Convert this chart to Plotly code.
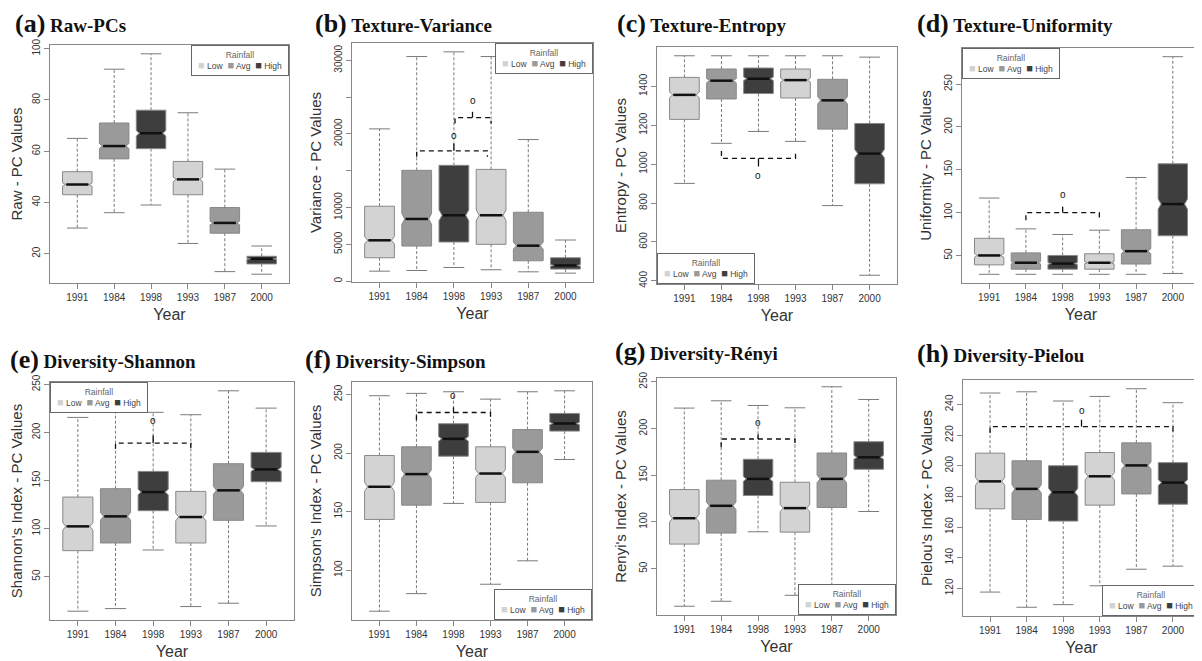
import math
import plotly.graph_objects as go

# ---------------- data ----------------
years = ["1991", "1984", "1998", "1993", "1987", "2000"]
rainfall = ["Low", "Avg", "High", "Low", "Avg", "High"]
rain_levels = ["Low", "Avg", "High"]
rain_colors = {"Low": "#d3d3d3", "Avg": "#9a9a9a", "High": "#3e3e3e"}
n_obs = 500  # approximate sample size per year (sets notch size)

# (a) Raw-PCs
raw_lower = [30, 36, 39, 24, 13, 12]
raw_q1 = [43, 57, 61, 43, 28, 16]
raw_median = [47, 62, 67, 49, 32, 18]
raw_q3 = [52, 71, 76, 56, 38, 19]
raw_upper = [65, 92, 98, 75, 53, 23]

# (b) Texture-Variance
var_lower = [1360, 1450, 1860, 1550, 1270, 1090]
var_q1 = [3180, 4770, 5320, 5000, 2770, 1640]
var_median = [5550, 8450, 8950, 8950, 4820, 2140]
var_q3 = [10180, 15050, 15730, 15180, 9360, 3180]
var_upper = [20680, 30500, 31140, 30500, 19230, 5590]

# (c) Texture-Entropy
ent_lower = [901, 1107, 1168, 1117, 787, 429]
ent_q1 = [1230, 1335, 1363, 1340, 1180, 899]
ent_median = [1356, 1429, 1439, 1432, 1328, 1054]
ent_q3 = [1446, 1489, 1494, 1489, 1436, 1209]
ent_upper = [1557, 1557, 1557, 1557, 1557, 1550]

# (d) Texture-Uniformity
uni_lower = [28, 28, 28, 28, 28, 29]
uni_q1 = [39, 34, 34, 34, 40, 73]
uni_median = [50, 41.5, 40.5, 41.5, 55, 110]
uni_q3 = [70, 53, 50, 52, 80, 157]
uni_upper = [117, 81, 74.5, 79.5, 141, 282]

# (e) Diversity-Shannon
sha_lower = [14, 16.7, 77.7, 18.8, 22.3, 102.7]
sha_q1 = [77, 85, 118.6, 85, 108.6, 148.8]
sha_median = [102.3, 112.7, 138, 112, 139.8, 161.6]
sha_q3 = [132.8, 141.5, 159.5, 138.7, 167.5, 179.3]
sha_upper = [215.7, 232, 221, 218.5, 243.4, 225.4]

# (f) Diversity-Simpson
sim_lower = [65, 80, 157, 88, 108, 194.5]
sim_q1 = [143.3, 155.5, 197.3, 157.8, 174.6, 218.7]
sim_median = [171.2, 182, 212.1, 182.5, 201, 225.2]
sim_q3 = [197.9, 205.3, 225, 205.3, 220, 233.8]
sim_upper = [248.9, 250.9, 252.3, 246, 252.3, 253.1]

# (g) Diversity-Renyi
ren_lower = [9.8, 15.1, 89.5, 21.5, 28, 111.2]
ren_q1 = [76.3, 88.1, 128.3, 89.1, 115.5, 156.4]
ren_median = [104, 117.3, 146.1, 114.8, 146.1, 169.2]
ren_q3 = [134.7, 144.7, 167.1, 142.5, 173.8, 185.9]
ren_upper = [221.9, 229.7, 224.7, 222.2, 244.7, 231.1]

# (h) Diversity-Pielou
pie_lower = [117.6, 107.7, 109.4, 121.7, 132.5, 134.5]
pie_q1 = [171.9, 165, 163.9, 174.3, 181.6, 174.9]
pie_median = [189.8, 184.9, 182.7, 193.1, 200.2, 189]
pie_q3 = [208.2, 203.2, 200, 208.6, 214.9, 202]
pie_upper = [247.4, 248.2, 242.2, 245.2, 250.2, 241.1]

# ---------------- panel definitions ----------------
# the page body has an 8px margin, so the figure is sized to fill the window from (8, 8)
OFF = 8
W, H = 1202 - OFF, 661 - OFF


def px_x(s):
    return (s - OFF) / W


def px_y(s):
    return 1 - (s - OFF) / H


panels = [
    dict(tag="a", name="Raw-PCs", ytitle="Raw - PC Values",
         lower=raw_lower, q1=raw_q1, med=raw_median, q3=raw_q3, upper=raw_upper,
         ticks=[20, 40, 60, 80, 100], ticktext=None,
         legend=("right", "top"), box=(50, 289, 45, 283), title_xy=(13, 23)),
    dict(tag="b", name="Texture-Variance", ytitle="Variance - PC Values",
         lower=var_lower, q1=var_q1, med=var_median, q3=var_q3, upper=var_upper,
         ticks=[0, 5000, 10000, 15000, 20000, 25000, 30000],
         ticktext=["0", "5000", "10000", "", "20000", "", "30000"],
         legend=("right", "top"), box=(352, 593, 43, 282), title_xy=(313, 23)),
    dict(tag="c", name="Texture-Entropy", ytitle="Entropy - PC Values",
         lower=ent_lower, q1=ent_q1, med=ent_median, q3=ent_q3, upper=ent_upper,
         ticks=[400, 600, 800, 1000, 1200, 1400], ticktext=None,
         legend=("left", "bottom"), box=(657, 897, 47, 284), title_xy=(615, 23)),
    dict(tag="d", name="Texture-Uniformity", ytitle="Uniformity - PC Values",
         lower=uni_lower, q1=uni_q1, med=uni_median, q3=uni_q3, upper=uni_upper,
         ticks=[50, 100, 150, 200, 250], ticktext=None,
         legend=("left", "top"), box=(962, 1200, 48, 283), title_xy=(915, 23)),
    dict(tag="e", name="Diversity-Shannon", ytitle="Shannon's Index - PC Values",
         lower=sha_lower, q1=sha_q1, med=sha_median, q3=sha_q3, upper=sha_upper,
         ticks=[50, 100, 150, 200, 250], ticktext=None,
         legend=("left", "top"), box=(50, 294, 382, 620), title_xy=(8, 359)),
    dict(tag="f", name="Diversity-Simpson", ytitle="Simpson's Index - PC Values",
         lower=sim_lower, q1=sim_q1, med=sim_median, q3=sim_q3, upper=sim_upper,
         ticks=[100, 150, 200, 250], ticktext=None,
         legend=("right", "bottom"), box=(352, 592, 382, 620), title_xy=(303, 359)),
    dict(tag="g", name="Diversity-Rényi", ytitle="Renyi's Index - PC Values",
         lower=ren_lower, q1=ren_q1, med=ren_median, q3=ren_q3, upper=ren_upper,
         ticks=[50, 100, 150, 200, 250], ticktext=None,
         legend=("right", "bottom"), box=(657, 896, 378, 615), title_xy=(613, 351)),
    dict(tag="h", name="Diversity-Pielou", ytitle="Pielou's Index - PC Values",
         lower=pie_lower, q1=pie_q1, med=pie_median, q3=pie_q3, upper=pie_upper,
         ticks=[120, 140, 160, 180, 200, 220, 240], ticktext=None,
         legend=("right", "bottom"), box=(963, 1200, 380, 616), title_xy=(915, 353)),
]

# significance brackets (annotation geometry): panel, x-left, x-right, line y, end y, centre x, centre tick y, marker y
brackets = [
    (1, 2, 3.9, 17700, 16900, 3, 18700, 19800),
    (1, 3.03, 4, 22200, 21400, 3.5, 23000, 24600),
    (2, 2, 4, 1030, 1068, 3, 988, 940),
    (3, 2, 4, 100, 91, 3, 107, 121),
    (4, 2, 4, 189, 183, 3, 197, 212),
    (5, 2, 4, 234.6, 228, 3, 239, 249.5),
    (6, 2, 4, 188.8, 180, 3, 194, 206),
    (7, 1, 6, 225.5, 221.5, 3.5, 230, 236),
]

# ---------------- build figure ----------------
fig = go.Figure()
BORDER = "#888888"
TXT = "#333333"
xpos = list(range(1, len(years) + 1))
layout_axes = {}
annotations = []
shapes = []

for k, p in enumerate(panels):
    sfx = "" if k == 0 else str(k + 1)
    xa, ya = "x" + sfx, "y" + sfx
    # boxes, grouped by rainfall class
    for lvl in rain_levels:
        idx = [i for i, r in enumerate(rainfall) if r == lvl]
        fig.add_trace(go.Box(
            x=[xpos[i] for i in idx],
            q1=[p["q1"][i] for i in idx],
            median=[p["med"][i] for i in idx],
            q3=[p["q3"][i] for i in idx],
            lowerfence=[p["q1"][i] for i in idx],
            upperfence=[p["q3"][i] for i in idx],
            notched=True,
            notchspan=[1.58 * (p["q3"][i] - p["q1"][i]) / math.sqrt(n_obs) for i in idx],
            notchwidth=0.1,
            width=0.8,
            whiskerwidth=0,
            fillcolor=rain_colors[lvl],
            line=dict(color=BORDER, width=1),
            boxpoints=False,
            hoverinfo="skip",
            showlegend=False,
            xaxis=xa, yaxis=ya,
        ))
    # dashed whiskers, staples and thick medians
    wx, wy, sx, sy, mx, my = [], [], [], [], [], []
    for i, x in enumerate(xpos):
        wx += [x, x, None, x, x, None]
        wy += [p["q3"][i], p["upper"][i], None, p["q1"][i], p["lower"][i], None]
        sx += [x - 0.28, x + 0.28, None, x - 0.28, x + 0.28, None]
        sy += [p["upper"][i], p["upper"][i], None, p["lower"][i], p["lower"][i], None]
        mx += [x - 0.3, x + 0.3, None]
        my += [p["med"][i], p["med"][i], None]
    fig.add_trace(go.Scatter(x=wx, y=wy, mode="lines", line=dict(color="#7a7a7a", width=1, dash="3px,2px"),
                             hoverinfo="skip", showlegend=False, xaxis=xa, yaxis=ya))
    fig.add_trace(go.Scatter(x=sx, y=sy, mode="lines", line=dict(color="#7a7a7a", width=1),
                             hoverinfo="skip", showlegend=False, xaxis=xa, yaxis=ya))
    fig.add_trace(go.Scatter(x=mx, y=my, mode="lines", line=dict(color="#111111", width=2.5),
                             hoverinfo="skip", showlegend=False, xaxis=xa, yaxis=ya))

    # axes (R-like range: data range extended by 4 %)
    lo, hi = min(p["lower"]), max(p["upper"])
    pad = 0.04 * (hi - lo)
    l, r, t, b = p["box"]
    layout_axes["xaxis" + sfx] = dict(
        domain=[px_x(l), px_x(r)], anchor=ya, range=[0.26, 6.74],
        tickvals=xpos, ticktext=years, ticks="outside", ticklen=5, tickcolor=BORDER,
        tickfont=dict(size=10, color=TXT, family="Liberation Sans"),
        showline=True, mirror=True, linecolor=BORDER, linewidth=1,
        showgrid=False, zeroline=False, automargin=False,
        title=dict(text="Year", font=dict(size=16, color=TXT, family="Liberation Sans"), standoff=6),
    )
    layout_axes["yaxis" + sfx] = dict(
        domain=[px_y(b), px_y(t)], anchor=xa, range=[lo - pad, hi + pad],
        tickvals=p["ticks"], ticktext=p["ticktext"] if p["ticktext"] else [str(v) for v in p["ticks"]],
        tickangle=-90, ticks="outside", ticklen=5, tickcolor=BORDER,
        tickfont=dict(size=10, color=TXT, family="Liberation Sans"),
        showline=True, mirror=True, linecolor=BORDER, linewidth=1,
        showgrid=False, zeroline=False, automargin=False,
        title=dict(text=p["ytitle"], font=dict(size=15, color=TXT, family="Liberation Sans"), standoff=7),
    )

    # panel title
    tx, ty = p["title_xy"]
    annotations.append(dict(
        xref="paper", yref="paper", x=px_x(tx), y=px_y(ty), xanchor="left", yanchor="middle",
        text=f"<b><span style='font-size:26px'>({p['tag']})</span> {p['name']}</b>",
        showarrow=False, font=dict(family="Liberation Serif", size=19, color="#111111"),
    ))

    # R-style legend box
    hpos, vpos = p["legend"]
    items = "  ".join(
        f"<span style='color:{rain_colors[lv]};font-size:11px'>■</span>"
        f"<span style='color:#444444'> {lv}</span>" for lv in rain_levels)
    annotations.append(dict(
        xref=xa + " domain", yref=ya + " domain",
        x=1 if hpos == "right" else 0, y=1 if vpos == "top" else 0,
        xanchor=hpos, yanchor=vpos,
        text=f"<span style='color:#666666'>Rainfall</span><br>{items}",
        showarrow=False, align="center", width=92, height=25,
        font=dict(size=8.5, color="#444444", family="Liberation Sans"),
        bgcolor="white", bordercolor="#666666", borderwidth=1, borderpad=2,
    ))

for (k, x0, x1, yl, ye, xc, yt, yo) in brackets:
    sfx = "" if k == 0 else str(k + 1)
    shapes.append(dict(type="path", xref="x" + sfx, yref="y" + sfx,
                       path=f"M {x0},{ye} L {x0},{yl} L {x1},{yl} L {x1},{ye}",
                       line=dict(color="#111", width=1.3, dash="5px,4px")))
    shapes.append(dict(type="line", xref="x" + sfx, yref="y" + sfx,
                       x0=xc, x1=xc, y0=yl, y1=yt, line=dict(color="#111", width=1.3)))
    annotations.append(dict(xref="x" + sfx, yref="y" + sfx, x=xc, y=yo, text="o", showarrow=False,
                            font=dict(size=10, color="#111", family="Liberation Sans")))

fig.update_layout(
    width=W, height=H, margin=dict(l=0, r=0, t=0, b=0),
    paper_bgcolor="white", plot_bgcolor="white",
    showlegend=False, boxmode="overlay",
    annotations=annotations, shapes=shapes,
    **layout_axes,
)

fig.write_html("out.html")
